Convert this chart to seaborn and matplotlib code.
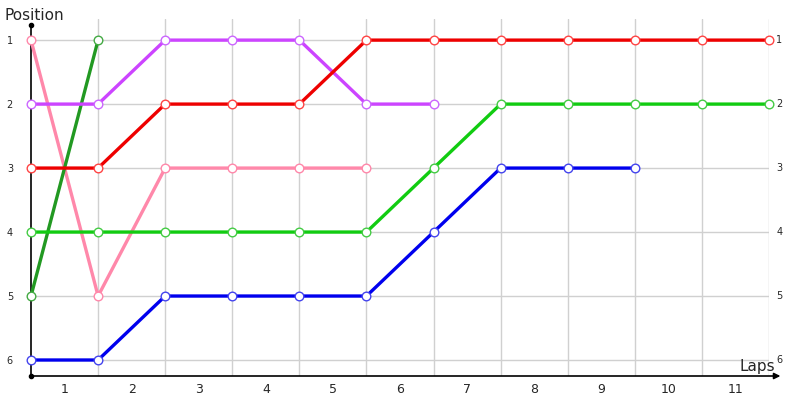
import pandas as pd
import seaborn as sns
import matplotlib.pyplot as plt

# lap boundaries (x) and race positions per car
lap_labels = [str(i) for i in range(1, 12)]
positions_y = [1, 2, 3, 4, 5, 6]

pink_x = [0, 1, 2, 3, 4, 5]
pink_y = [1, 5, 3, 3, 3, 3]
darkgreen_x = [0, 1]
darkgreen_y = [5, 1]
purple_x = [0, 1, 2, 3, 4, 5, 6]
purple_y = [2, 2, 1, 1, 1, 2, 2]
red_x = [0, 1, 2, 3, 4, 5, 6, 7, 8, 9, 10, 11]
red_y = [3, 3, 2, 2, 2, 1, 1, 1, 1, 1, 1, 1]
green_x = [0, 1, 2, 3, 4, 5, 6, 7, 8, 9, 10, 11]
green_y = [4, 4, 4, 4, 4, 4, 3, 2, 2, 2, 2, 2]
blue_x = [0, 1, 2, 3, 4, 5, 6, 7, 8, 9]
blue_y = [6, 6, 5, 5, 5, 5, 4, 3, 3, 3]

series = [
    (pink_x, pink_y, "#ff88aa", "#ff88aa"),
    (darkgreen_x, darkgreen_y, "#229922", "#44aa44"),
    (purple_x, purple_y, "#cc44ff", "#cc66ff"),
    (red_x, red_y, "#ee0000", "#ff4444"),
    (green_x, green_y, "#11cc11", "#44cc44"),
    (blue_x, blue_y, "#0000ee", "#4444ee"),
]

sns.set_style("white")
plt.rcParams['font.family'] = ['DejaVu Sans']

fig = plt.figure(figsize=(8, 4), dpi=100)
ax = fig.add_axes([31 / 800, 1 - 376 / 400, 738 / 800, 357 / 400])
ax.set_xlim(0, 11)
ax.set_ylim(6.25, 0.67)
for s in ax.spines.values():
    s.set_visible(False)

# grid
for yv in positions_y:
    ax.plot([0, 11], [yv, yv], color="#d0d0d0", lw=1, zorder=0)
for xv in range(1, 12):
    ax.plot([xv, xv], [0.67, 6.25], color="#d0d0d0", lw=1, zorder=0)

for xs, ys, col, edge in series:
    df = pd.DataFrame({"lap": xs, "pos": ys})
    sns.lineplot(data=df, x="lap", y="pos", ax=ax, color=col, lw=2.4,
                 marker="o", markersize=6.2, markerfacecolor="white",
                 markeredgecolor=edge, markeredgewidth=1.0, clip_on=False,
                 zorder=3)

# axis lines
ax.plot([0, 0], [6.25, 0.77], color="black", lw=1.2, clip_on=False, zorder=2)
ax.plot([0], [0.77], marker="o", color="black", ms=3, clip_on=False)
ax.plot([0], [6.25], marker="o", color="black", ms=3, clip_on=False)
ax.annotate("", xy=(11.17, 6.25), xytext=(0, 6.25), annotation_clip=False,
            arrowprops=dict(arrowstyle="-|>", color="black", lw=1.2,
                            mutation_scale=9, shrinkA=0, shrinkB=0))

ax.set_xticks([i + 0.5 for i in range(11)])
ax.set_xticklabels(lap_labels, fontsize=9)
ax.set_yticks(positions_y)
ax.set_yticklabels([str(p) for p in positions_y], fontsize=7)
ax.tick_params(axis="x", length=0, pad=5)
ax.tick_params(axis="y", length=0, pad=13)
ax.set_xlabel("")
ax.set_ylabel("")

# right-hand position labels
for p in positions_y:
    ax.text(11.11, p, str(p), fontsize=7, ha="left", va="center")

fig.text(4 / 800, 1 - 15 / 400, "Position", fontsize=11, va="center", ha="left")
fig.text(775 / 800, 1 - 366 / 400, "Laps", fontsize=11, va="center", ha="right")

fig.savefig("out.png", dpi=100)
